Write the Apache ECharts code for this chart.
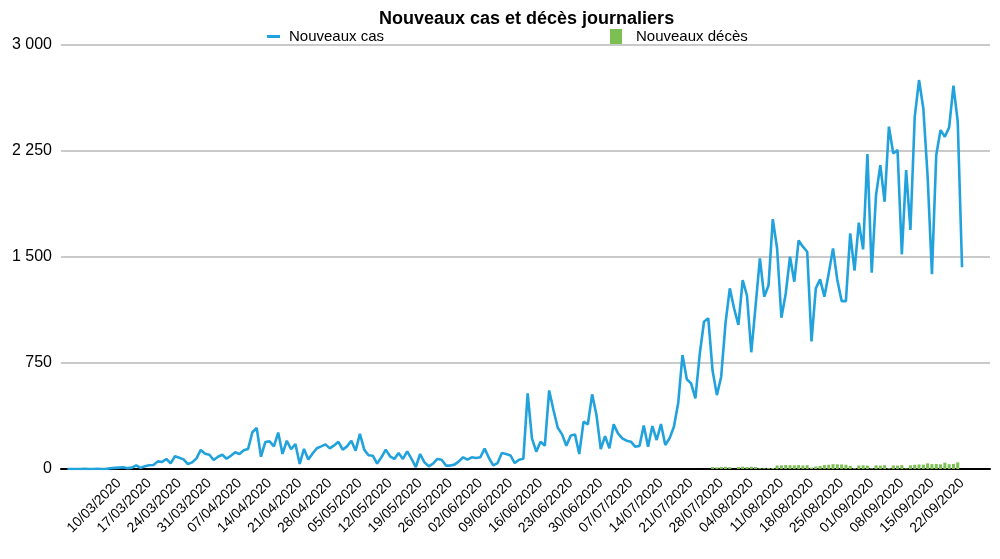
<!DOCTYPE html>
<html>
<head>
<meta charset="utf-8">
<script src="https://cdn.jsdelivr.net/npm/echarts@6/dist/echarts.min.js"></script>
<style>html,body{margin:0;padding:0;background:#fff}#c{width:1000px;height:559px}</style>
</head>
<body>
<div id="c"></div>
<script>
// Category dates: 26/02/2020 .. 28/09/2020 (axis frame); data runs 27/02 .. 22/09
const firstDate = [2020, 2, 26];
const dayCount = 216;
const labelFirst = '10/03/2020';
const labelLast = '22/09/2020';
const yTicks = [0, 750, 1500, 2250, 3000];

// Nouveaux cas, one per day from 27/02/2020 to 22/09/2020
const cases = [
0,0,0,0,1,0,0,1,0,1,
5,8,10,12,6,10,26,8,19,26,
28,54,50,71,40,90,80,68,35,47,
75,135,108,101,64,87,101,73,94,118,
106,132,142,260,290,87,190,196,160,258,
107,200,140,177,36,142,68,110,147,160,
174,146,167,192,137,160,200,130,248,137,
97,94,38,83,137,90,71,113,71,125,
71,14,106,47,19,38,71,66,24,24,
31,54,83,66,83,78,83,144,78,26,
42,113,106,96,42,66,72,535,217,123,
193,165,556,417,292,245,165,236,245,106,
335,316,528,382,141,233,146,316,252,217,
200,193,158,163,307,158,304,205,318,170,
217,299,465,806,635,606,500,810,1042,1066,
695,523,653,1030,1278,1137,1019,1337,1226,826,
1155,1490,1219,1298,1768,1560,1070,1240,1502,1325,
1617,1573,1537,903,1278,1342,1219,1384,1561,1337,
1188,1188,1667,1403,1743,1554,2228,1389,1938,2150,
1891,2422,2233,2257,1519,2115,1691,2492,2752,2551,
2068,1379,2221,2398,2351,2417,2712,2457,1427
];

// Nouveaux décès, same days (only visible from late July)
const deaths = [
0,0,0,0,0,0,0,0,0,0, 0,0,0,0,0,0,0,0,0,0,
0,0,0,0,0,0,0,0,0,0, 0,0,0,0,0,0,0,0,0,0,
0,0,0,0,0,0,0,0,0,0, 0,0,0,0,0,0,0,0,0,0,
0,0,0,0,0,0,0,0,0,0, 0,0,0,0,0,0,0,0,0,0,
0,0,0,0,0,0,0,0,0,0, 0,0,0,0,0,0,0,0,0,0,
0,0,0,0,0,0,0,0,0,0, 0,0,0,0,0,0,0,0,0,0,
0,0,0,0,0,0,0,0,0,0, 0,0,0,0,0,0,0,0,0,0,
0,0,0,0,0,0,0,0,0,0,
14,12,15,16,13,0,15,17,14,16,
15,6,5,6,7,25,26,28,27,26,
28,25,27,10,18,22,28,30,34,33,
32,30,22,6,25,26,24,5,26,24,
27,6,25,24,27,5,26,30,32,31,
40,34,35,33,45,34,36,47,0
];

function pad(n){return (n<10?'0':'')+n;}
const categories = [];
const base = Date.UTC(firstDate[0], firstDate[1]-1, firstDate[2]);
for (let i = 0; i < dayCount; i++) {
  const d = new Date(base + i*86400000);
  categories.push(pad(d.getUTCDate())+'/'+pad(d.getUTCMonth()+1)+'/'+d.getUTCFullYear());
}
const i0 = categories.indexOf(labelFirst), i1 = categories.indexOf(labelLast);
function fill(arr){ const out = new Array(dayCount).fill(null); for(let k=0;k<arr.length;k++) out[k+1]=arr[k]; return out; }

const chart = echarts.init(document.getElementById('c'), null, {renderer:'canvas'});
const font = 'Liberation Sans, Arial, Helvetica, sans-serif';
chart.setOption({
  animation:false,
  textStyle:{fontFamily:font},
  title:{text:'Nouveaux cas et décès journaliers', left:374, top:5,
    textStyle:{fontSize:18, fontWeight:'bold', color:'#000', fontFamily:font}},
  legend:[
    {data:[{name:'Nouveaux cas', icon:'rect'}], left:262, top:24, itemWidth:13, itemHeight:3, itemGap:8,
      textStyle:{fontSize:15, color:'#000', fontFamily:font, padding:[0,0,0,4]}},
    {data:[{name:'Nouveaux décès', icon:'rect'}], left:605, top:24, itemWidth:12, itemHeight:15, itemGap:8,
      textStyle:{fontSize:15, color:'#000', fontFamily:font, padding:[0,0,0,9]}}
  ],
  grid:{left:61, right:10, top:45, bottom:90, containLabel:false},
  xAxis:{type:'category', data:categories, boundaryGap:true,
    axisLine:{lineStyle:{color:'#000', width:2}},
    axisTick:{show:false},
    axisLabel:{rotate:45, fontSize:14, color:'#000', margin:12, fontFamily:font,
      interval:function(index){ return index>=i0 && index<=i1 && (index-i0)%7===0; }},
    splitLine:{show:false}},
  yAxis:{type:'value', min:yTicks[0], max:yTicks[yTicks.length-1], interval:yTicks[1]-yTicks[0],
    axisLine:{show:false}, axisTick:{show:false},
    axisLabel:{fontSize:16, color:'#000', margin:9, fontFamily:font,
      formatter:function(v){ return v>=1000 ? String(v).replace(/(\d)(\d{3})$/,'$1 $2') : String(v); }},
    splitLine:{lineStyle:{color:'#b8b8b8', width:1.5}}},
  series:[
    {name:'Nouveaux décès', type:'bar', data:fill(deaths), barCategoryGap:'30%',
      itemStyle:{color:'#7cbf52'}, z:2},
    {name:'Nouveaux cas', type:'line', data:fill(cases), showSymbol:false, connectNulls:false,
      lineStyle:{color:'#22a2dc', width:2.6}, itemStyle:{color:'#22a2dc'}, z:3}
  ]
});
</script>
</body>
</html>
